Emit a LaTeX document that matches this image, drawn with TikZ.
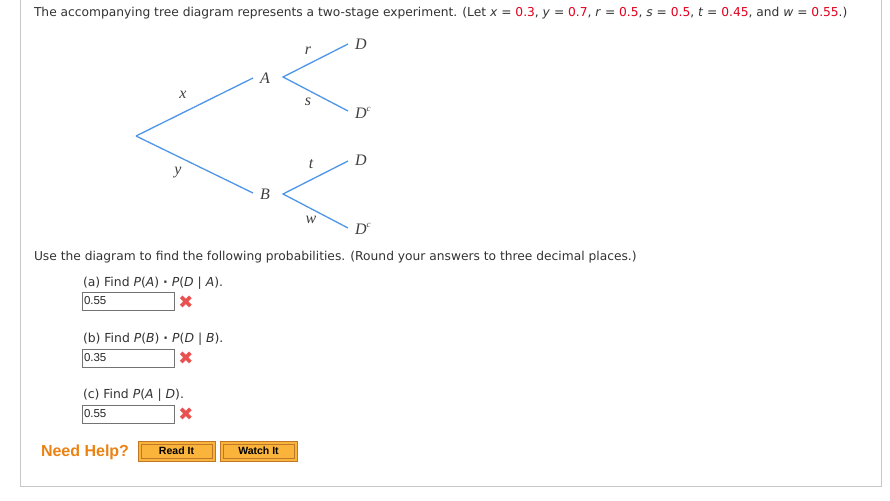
\documentclass[tikz,border=0pt]{standalone}
\usepackage{fontspec}
\setmainfont{DejaVu Sans}
\newfontfamily\arial{Liberation Sans}
\newfontfamily\tms{Liberation Serif}
\newfontfamily\dejavu{DejaVu Sans}
\usetikzlibrary{calc}
\definecolor{txt}{RGB}{51,51,51}
\definecolor{ans}{RGB}{225,0,30}
\definecolor{branch}{RGB}{80,150,230}
\definecolor{frame}{RGB}{200,200,200}
\definecolor{btnfill}{RGB}{250,180,60}
\definecolor{btnedge}{RGB}{190,120,40}
\definecolor{helpc}{RGB}{235,130,20}
\definecolor{xred}{RGB}{235,80,80}
\tikzset{
  every node/.style={inner sep=0pt, outer sep=0pt},
  body/.style={font=\fontsize{12.25}{15}\selectfont, text=txt, anchor=base west},
  qtext/.style={font=\fontsize{12.4}{15}\selectfont, text=txt, anchor=base west},
  br/.style={draw=branch, line width=1.3pt},
  tl/.style={font=\tms\itshape\fontsize{16}{18}\selectfont, text=black!75},
  ansbox/.style={draw=black!55, line width=0.8pt, minimum width=92pt, minimum height=18pt, anchor=north west, fill=white},
  anstxt/.style={font=\arial\fontsize{11.5}{13}\selectfont, text=black!85, anchor=west},
  wrong/.style={font=\dejavu\bfseries\fontsize{18}{18}\selectfont, text=xred},
  btn/.style={draw=btnedge, line width=1pt, fill=btnfill, minimum width=77pt, minimum height=20pt, anchor=north west},
  btntxt/.style={font=\arial\bfseries\fontsize{10.5}{12}\selectfont, text=black},
}
\newcommand{\rv}[1]{\textcolor{ans}{#1}}
\newcommand{\compl}{\textsuperscript{\fontsize{9}{9}\selectfont c}}
\newcommand{\mdot}{\hspace{4pt}\textbf{·}\hspace{4pt}}
\begin{document}
\begin{tikzpicture}[x=1pt,y=-1pt]
\useasboundingbox (0,0) rectangle (890,500);
\fill[white] (0,0) rectangle (890,500);
\draw[frame, line width=1pt] (20,-2) -- (20,486) -- (881,486) -- (881,-2);

\node[body] (title) at (34,17) {The accompanying tree diagram represents a two-stage experiment. (Let \textit{x} = \rv{0.3}, \textit{y} = \rv{0.7}, \textit{r} = \rv{0.5}, \textit{s} = \rv{0.5}, \textit{t} = \rv{0.45}, and \textit{w} = \rv{0.55}.)};

% tree
\coordinate (root) at (136,136);
\node[tl] (A) at (265,78) {A};
\node[tl] (B) at (265,194) {B};
\node[tl] (D1) at (361,44) {D};
\node[tl, anchor=west] (D2) at (355,113) {D\compl};
\node[tl] (D3) at (361,160) {D};
\node[tl, anchor=west] (D4) at (355,229) {D\compl};
\coordinate (Ae) at (253,78);
\coordinate (Be) at (253,193);
\draw[br] (root) -- (Ae);
\draw[br] (root) -- (Be);
\coordinate (As) at (283,77);
\coordinate (Bs) at (283,194);
\coordinate (D1e) at (348,44);
\coordinate (D2e) at (348,111);
\coordinate (D3e) at (348,161);
\coordinate (D4e) at (348,228);
\draw[br] (D1e) -- (As) -- (D2e);
\draw[br] (D3e) -- (Bs) -- (D4e);
\node[tl] (lx) at (183,95) {x};
\node[tl] (ly) at (178,173) {y};
\node[tl] (lr) at (308,51) {r};
\node[tl] (ls) at (308,102) {s};
\node[tl] (lt) at (311,164) {t};
\node[tl] (lw) at (311,220) {w};

\node[body] (use) at (34,260) {Use the diagram to find the following probabilities. (Round your answers to three decimal places.)};

\node[qtext] (qa) at (83,286) {(a) Find \textit{P}(\textit{A})\mdot\textit{P}(\textit{D} | \textit{A}).};
\node[ansbox] (ba) at (82,292) {};
\node[anstxt] at ($(ba.west)+(2,0)$) {0.55};
\node[wrong] (xa) at (186,302) {✖};

\node[qtext] (qb) at (83,342) {(b) Find \textit{P}(\textit{B})\mdot\textit{P}(\textit{D} | \textit{B}).};
\node[ansbox] (bb) at (82,349) {};
\node[anstxt] at ($(bb.west)+(2,0)$) {0.35};
\node[wrong] (xb) at (186,358) {✖};

\node[qtext] (qc) at (83,398) {(c) Find \textit{P}(\textit{A} | \textit{D}).};
\node[ansbox] (bc) at (82,405) {};
\node[anstxt] at ($(bc.west)+(2,0)$) {0.55};
\node[wrong] (xc) at (186,414) {✖};

\node[anchor=base west, font=\arial\bfseries\fontsize{16}{18}\selectfont, text=helpc] (help) at (41,456) {Need Help?};
\node[btn] (read) at (138,441) {};
\draw[btnedge, line width=0.6pt] ($(read.north west)+(3,3)$) rectangle ($(read.south east)+(-3,-3)$);
\node[btntxt] at (read.center) {Read It};
\node[btn] (watch) at (220,441) {};
\draw[btnedge, line width=0.6pt] ($(watch.north west)+(3,3)$) rectangle ($(watch.south east)+(-3,-3)$);
\node[btntxt] at (watch.center) {Watch It};
\end{tikzpicture}
\end{document}
